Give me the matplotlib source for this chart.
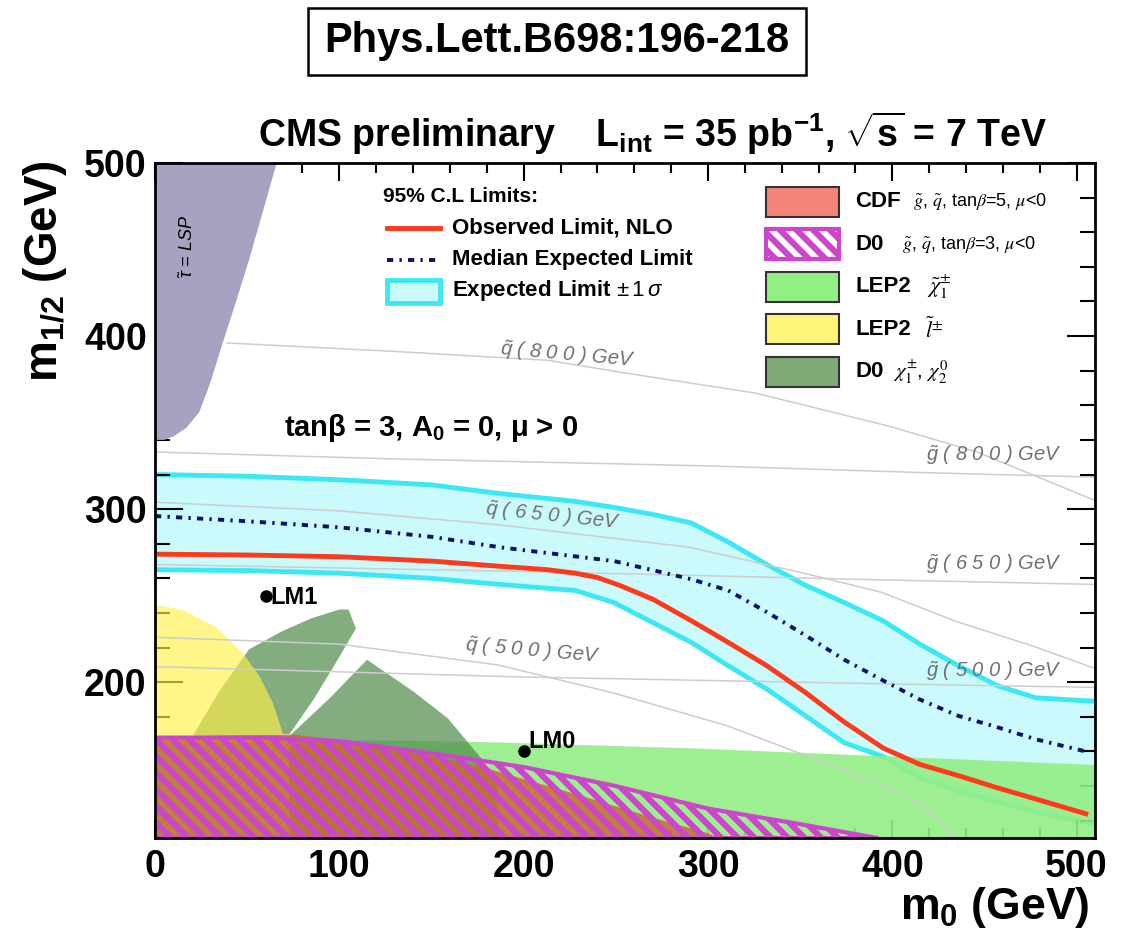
import matplotlib
matplotlib.use('Agg')
import matplotlib.pyplot as plt
from matplotlib.patches import Rectangle, Polygon
from matplotlib.lines import Line2D
from matplotlib.ticker import MultipleLocator

plt.rcParams['font.family'] = ['Liberation Sans', 'DejaVu Sans']
plt.rcParams['mathtext.fontset'] = 'custom'
plt.rcParams['mathtext.rm'] = 'Liberation Sans'
plt.rcParams['mathtext.it'] = 'Liberation Sans:italic'
plt.rcParams['mathtext.bf'] = 'Liberation Sans:bold'
plt.rcParams['hatch.linewidth'] = 4.4

'''limit curves in the (m0, m1/2) plane, GeV'''
obs_m0 = [0, 50, 100, 150, 187, 213, 228, 240, 252, 270, 291, 311, 332, 353, 374, 395, 415, 436, 457, 478, 505]
obs_m12 = [274, 273.5, 272.5, 270, 267, 265, 263, 260.5, 256, 248, 235.5, 223, 209.5, 194, 177, 162, 152.5, 146, 139, 132.5, 124]

exp_m0 = [0, 50, 100, 150, 187, 249, 291, 311, 332, 353, 374, 395, 415, 436, 457, 478, 505]
exp_m12 = [296, 293, 289.5, 284, 278, 270, 259.5, 253, 240.5, 227, 213, 201, 190, 180.5, 174, 167, 160]

band_m0 = [0, 50, 100, 150, 187, 228, 249, 270, 291, 311, 332, 353, 374, 395, 415, 436, 457, 478, 510]
band_up = [320, 319, 317, 314, 309, 304.5, 301, 297, 292, 281, 268, 256, 246, 235.5, 222, 209.5, 198, 191, 189]
band_lo = [265, 264.5, 263, 260, 256.5, 253, 246, 234.5, 223, 209.5, 196, 180.5, 165, 157, 145, 137, 131, 125, 118]

'''previous experiments'''
lep_chi_m0 = [0, 132, 186, 294, 395, 510]
lep_chi_top = [167.5, 166.5, 165.5, 162, 157.5, 152.5]

lep_slep_m0 = [0, 15, 33, 47.5, 56.6, 63.6, 69, 72]
lep_slep_top = [245, 242, 232, 217, 203.4, 188.4, 171, 165]

cdf_m0 = [0, 40, 75, 100, 130, 175, 230, 270, 300, 306]
cdf_top = [169, 169.5, 170, 167, 162, 152, 135, 122, 113, 110]

d0_m0 = [0, 60, 100, 150, 200, 250, 300, 350, 392]
d0_top = [168, 168, 166, 159, 151, 140, 127, 118, 110]

d0_chi_a = [(20, 168), (35, 195), (51, 219), (69, 229.5), (85, 237), (100, 242), (105, 242),
            (109, 231), (98, 211), (86, 190), (73, 170)]
d0_chi_b = [(73, 110), (73, 169), (95, 191), (115, 213), (141, 194), (159, 179), (177, 156),
            (186, 140), (186, 110)]

stau_lsp = [(0, 500), (0, 340), (5, 340), (10, 342), (17, 347), (24, 356), (30, 373), (36.7, 396),
            (44, 420), (51, 444), (58, 470), (66, 500)]

'''squark / gluino iso-mass contours'''
sq800_m0 = [39, 132, 213, 253, 326, 398, 446, 510]
sq800_m12 = [396, 391, 386, 379, 367, 348, 333, 305]
gl800_m0 = [0, 130, 300, 420, 510]
gl800_m12 = [333, 329, 325, 321, 318.5]
sq650_m0 = [0, 100, 186, 290, 352, 394, 435, 476, 510]
sq650_m12 = [304, 299, 291, 278, 263, 252, 235, 221, 208]
gl650_m0 = [0, 200, 400, 510]
gl650_m12 = [268, 264, 259, 256.5]
sq500_m0 = [0, 100, 186, 248, 310, 372, 400, 420, 435]
sq500_m12 = [226, 222, 210, 194, 175, 150, 138, 126, 110]
gl500_m0 = [0, 200, 400, 510]
gl500_m12 = [209, 203, 199, 197]

iso_labels = [r'$\tilde{q}$ ( 8 0 0 ) GeV', r'$\tilde{g}$ ( 8 0 0 ) GeV', r'$\tilde{q}$ ( 6 5 0 ) GeV',
              r'$\tilde{g}$ ( 6 5 0 ) GeV', r'$\tilde{q}$ ( 5 0 0 ) GeV', r'$\tilde{g}$ ( 5 0 0 ) GeV']
iso_label_m0 = [224, 455, 216, 455, 205, 455]
iso_label_m12 = [389, 331, 296, 268, 218, 206.5]
iso_label_rot = [-5, 0, -6, 0, -5, 0]

bench_names = ['LM1', 'LM0']
bench_m0 = [60, 200]
bench_m12 = [250, 160]

red = '#ff3a1c'
navy = '#10106a'
cyan_edge = '#3ce8f4'
cyan_fill = '#cbfafc'
green = '#93ee85'
yellow = '#fff04a'
dkgreen = '#4f8a48'
cdf_col = '#c86a2e'
magenta = '#cc46cc'
stau_col = '#a7a2c1'

fig = plt.figure(figsize=(11.21, 9.36), dpi=100)
ax = fig.add_axes([0.1383, 0.1047, 0.8385, 0.7212])

'''expected +-1 sigma band'''
ax.fill_between(band_m0, band_lo, band_up, color=cyan_fill, lw=0, zorder=1)
ax.plot(band_m0, band_up, color=cyan_edge, lw=3.5, zorder=1.5)
ax.plot(band_m0, band_lo, color=cyan_edge, lw=3.5, zorder=1.5)

ax.fill_between(lep_chi_m0, 110, lep_chi_top, color=green, alpha=0.9, lw=0, zorder=2)
ax.add_patch(Polygon(stau_lsp, closed=True, facecolor=stau_col, lw=0, zorder=2))
ax.add_patch(Polygon(d0_chi_a, closed=True, facecolor=dkgreen, alpha=0.7, lw=0, zorder=3))
ax.add_patch(Polygon(d0_chi_b, closed=True, facecolor=dkgreen, alpha=0.7, lw=0, zorder=3))
ax.fill_between(lep_slep_m0, 165, lep_slep_top, color=yellow, alpha=0.65, lw=0, zorder=3.5)
ax.fill_between(cdf_m0, 110, cdf_top, color=cdf_col, alpha=0.85, lw=0, zorder=4)
ax.fill_between(d0_m0, 110, d0_top, facecolor='none', edgecolor=magenta, hatch='\\\\',
                lw=3, zorder=5)

'''iso-mass lines and their labels'''
for xs, ys in [(sq800_m0, sq800_m12), (gl800_m0, gl800_m12), (sq650_m0, sq650_m12),
               (gl650_m0, gl650_m12), (sq500_m0, sq500_m12), (gl500_m0, gl500_m12)]:
    ax.plot(xs, ys, color='#cdcdcd', lw=1.1, zorder=6)
for lab, xx, yy, rot in zip(iso_labels, iso_label_m0, iso_label_m12, iso_label_rot):
    ax.text(xx, yy, lab, color='#707070', fontsize=14.5, style='italic', rotation=rot,
            ha='center', va='center', zorder=6)

ax.plot(exp_m0, exp_m12, color=navy, lw=2.8, ls=(0, (1.6, 1.6, 0.6, 1.6)), zorder=8)
ax.plot(obs_m0, obs_m12, color=red, lw=3.5, zorder=8)

ax.plot(bench_m0, bench_m12, 'o', color='black', ms=8, zorder=9)
ax.text(bench_m0[0] + 2.5, bench_m12[0] - 1, bench_names[0], fontsize=17, fontweight='bold',
        ha='left', va='center', zorder=9)
ax.text(bench_m0[1] + 2.5, bench_m12[1] + 6, bench_names[1], fontsize=17, fontweight='bold',
        ha='left', va='center', zorder=9)

ax.text(17.5, 452, r'$\tilde{\tau}$ = LSP', rotation=90, fontsize=13, style='italic',
        ha='center', va='center', zorder=6)
ax.text(70, 347, r'tan$\mathbf{\beta}$ = 3, A$_{\mathbf{0}}$ = 0, $\mathbf{\mu}$ > 0',
        fontsize=21, fontweight='bold', ha='left', va='center', zorder=9)

'''legend: limits'''
tr = ax.transAxes
ax.text(0.2426, 0.9496, '95% C.L Limits:', transform=tr, fontsize=15, fontweight='bold',
        ha='left', va='center')
ax.add_line(Line2D([0.2468, 0.3032], [0.9037, 0.9037], transform=tr, color=red, lw=3.5))
ax.text(0.316, 0.9037, 'Observed Limit, NLO', transform=tr, fontsize=16, fontweight='bold',
        ha='left', va='center')
ax.add_line(Line2D([0.2468, 0.3032], [0.8563, 0.8563], transform=tr, color=navy, lw=2.8,
                   ls=(0, (1.6, 1.6, 0.6, 1.6))))
ax.text(0.316, 0.8563, 'Median Expected Limit', transform=tr, fontsize=16, fontweight='bold',
        ha='left', va='center')
ax.add_patch(Rectangle((0.2468, 0.7926), 0.0564, 0.0341, transform=tr, facecolor=cyan_fill,
                       edgecolor=cyan_edge, lw=3.5, zorder=10))
ax.text(0.316, 0.8104, r'Expected Limit $\pm\,1\,\sigma$', transform=tr, fontsize=16,
        fontweight='bold', ha='left', va='center')

'''legend: previous searches'''
box_y = [0.92, 0.8578, 0.7941, 0.7319, 0.6681]
text_y = [0.9422, 0.8785, 0.8163, 0.7526, 0.6904]
exp_names = ['CDF', 'D0', 'LEP2', 'LEP2', 'D0']
exp_desc = [r'$\tilde{g}$, $\tilde{q}$, tan$\beta$=5, $\mu$<0', r'$\tilde{g}$, $\tilde{q}$, tan$\beta$=3, $\mu$<0',
            r'$\tilde{\chi}_1^{\pm}$', r'$\tilde{l}^{\pm}$', r'$\chi_1^{\pm}$, $\chi_2^0$']
desc_x = [0.8064, 0.7947, 0.8213, 0.819, 0.785]
desc_size = [13, 13, 16, 16, 15]
box_face = ['#f4857a', 'white', green, '#fff57a', '#7faa78']
for i in range(5):
    if i == 1:
        ax.add_patch(Rectangle((0.650, box_y[i]), 0.0777, 0.0444, transform=tr, facecolor='white',
                               edgecolor=magenta, hatch='\\\\', lw=3, zorder=10))
    else:
        ax.add_patch(Rectangle((0.650, box_y[i]), 0.0777, 0.0444, transform=tr,
                               facecolor=box_face[i], edgecolor='#333333', lw=1.5, zorder=10))
    ax.text(0.7447, text_y[i], exp_names[i], transform=tr, fontsize=16, fontweight='bold',
            ha='left', va='center')
    ax.text(desc_x[i], text_y[i], exp_desc[i], transform=tr, fontsize=desc_size[i],
            math_fontfamily='stix', ha='left', va='center')

'''axes styling'''
ax.set_xlim(0, 510)
ax.set_ylim(110, 500)
ax.set_xticks([0, 100, 200, 300, 400, 500])
ax.set_yticks([200, 300, 400, 500])
ax.xaxis.set_minor_locator(MultipleLocator(20))
ax.yaxis.set_minor_locator(MultipleLocator(20))
ax.tick_params(which='both', direction='in', top=True, right=True, width=1.5)
ax.tick_params(axis='x', which='major', length=13, pad=8)
ax.tick_params(axis='x', which='minor', length=7)
ax.tick_params(axis='y', which='major', length=20, pad=6)
ax.tick_params(axis='y', which='minor', length=11)
for lab in ax.get_xticklabels() + ax.get_yticklabels():
    lab.set_fontsize(27)
    lab.set_fontweight('bold')
for sp in ax.spines.values():
    sp.set_linewidth(2)
    sp.set_zorder(12)

fig.text(0.040, 0.710, r'm$_{\mathbf{1/2}}$ (GeV)', rotation=90, fontsize=33, fontweight='bold',
         ha='center', va='center')
fig.text(0.972, 0.030, r'm$_{\mathbf{0}}$ (GeV)', fontsize=32, fontweight='bold',
         ha='right', va='center')
fig.text(0.230, 0.858, r'CMS preliminary    L$_{\mathbf{int}}$ = 35 pb$^{\mathbf{-1}}$, $\mathbf{\sqrt{s}}$ = 7 TeV',
         fontsize=27, fontweight='bold', ha='left', va='center')

fig.patches.append(Rectangle((0.2748, 0.9199), 0.4442, 0.0716, transform=fig.transFigure,
                             facecolor='white', edgecolor='black', lw=1.8))
fig.text(0.4968, 0.9557, 'Phys.Lett.B698:196-218', fontsize=30, fontweight='bold',
         ha='center', va='center')

fig.savefig('out.png', dpi=100)
